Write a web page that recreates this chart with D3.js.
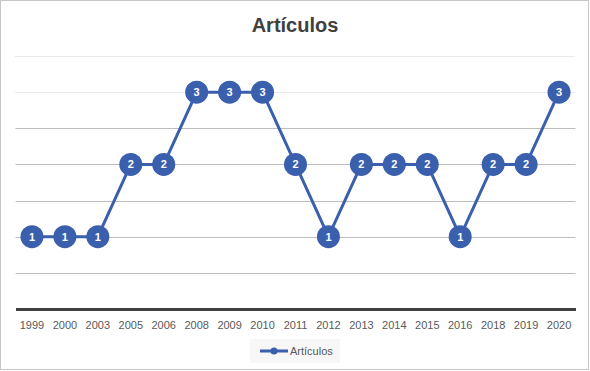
<!DOCTYPE html>
<html>
<head>
<meta charset="utf-8">
<title>Artículos</title>
<script src="https://d3js.org/d3.v7.min.js"></script>
<style>
  * { margin: 0; padding: 0; }
  body { background: #fff; }
  text { font-family: "Liberation Sans", Arial, sans-serif; }
</style>
</head>
<body>
<div id="chart"></div>
<script>
// datos
const years = ["1999", "2000", "2003", "2005", "2006", "2008", "2009", "2010", "2011",
               "2012", "2013", "2014", "2015", "2016", "2018", "2019", "2020"];
const articulos = [1, 1, 1, 2, 2, 3, 3, 3, 2, 1, 2, 2, 2, 1, 2, 2, 3];
const gridTicks = [0.5, 1, 1.5, 2, 2.5, 3, 3.5];
const seriesName = "Artículos";

const width = 590, height = 371;
const blue = "#3A5FAD";

const svg = d3.select("#chart").append("svg")
    .attr("width", width)
    .attr("height", height);

// marco
svg.append("rect")
    .attr("x", 0.5).attr("y", 0.5)
    .attr("width", 588).attr("height", 369)
    .attr("fill", "#fff")
    .attr("stroke", "#c6c6c6");

const x = d3.scaleBand()
    .domain(years)
    .range([15.5, 575.5]);

const y = d3.scaleLinear()
    .domain([0, 3.5])
    .range([309, 56]);

// título
svg.append("text")
    .attr("x", 295).attr("y", 32)
    .attr("text-anchor", "middle")
    .attr("font-size", 20)
    .attr("font-weight", "bold")
    .attr("fill", "#404040")
    .text(seriesName);

// líneas de división
svg.append("g")
    .selectAll("line")
    .data(gridTicks)
    .join("line")
    .attr("x1", 15.5).attr("x2", 575.5)
    .attr("y1", d => Math.round(y(d)) + 0.5)
    .attr("y2", d => Math.round(y(d)) + 0.5)
    .attr("stroke", d => d >= 3 ? "#d4d4d4" : "#bdbdbd")
    .attr("stroke-dasharray", d => d >= 3 ? "1,1" : null);

// eje X
const xAxis = svg.append("g")
    .attr("transform", `translate(0,${y(0)})`)
    .call(d3.axisBottom(x).tickSize(0).tickPadding(12));
xAxis.select(".domain")
    .attr("stroke", "#404040")
    .attr("stroke-width", 3);
xAxis.selectAll("text")
    .attr("font-size", 11)
    .attr("font-family", "Liberation Sans, Arial, sans-serif")
    .attr("fill", "#595959");

// línea
const line = d3.line()
    .x((d, i) => x(years[i]) + x.bandwidth() / 2)
    .y(d => y(d));

svg.append("path")
    .datum(articulos)
    .attr("fill", "none")
    .attr("stroke", blue)
    .attr("stroke-width", 3)
    .attr("stroke-linejoin", "round")
    .attr("d", line);

// marcadores con etiquetas
const pts = svg.append("g")
    .selectAll("g")
    .data(articulos)
    .join("g")
    .attr("transform", (d, i) => `translate(${x(years[i]) + x.bandwidth() / 2},${y(d)})`);

pts.append("circle")
    .attr("r", 11.5)
    .attr("fill", blue);

pts.append("text")
    .attr("text-anchor", "middle")
    .attr("dy", "0.36em")
    .attr("font-size", 11)
    .attr("font-weight", "bold")
    .attr("fill", "#fff")
    .text(d => d);

// leyenda
const legend = svg.append("g");
legend.append("rect")
    .attr("x", 250).attr("y", 339)
    .attr("width", 90).attr("height", 24)
    .attr("fill", "#f7f7f7");
legend.append("line")
    .attr("x1", 260).attr("x2", 288)
    .attr("y1", 351).attr("y2", 351)
    .attr("stroke", blue)
    .attr("stroke-width", 3);
legend.append("circle")
    .attr("cx", 274).attr("cy", 351)
    .attr("r", 3.5)
    .attr("fill", blue);
legend.append("text")
    .attr("x", 290).attr("y", 355)
    .attr("font-size", 11)
    .attr("fill", "#595959")
    .text(seriesName);
</script>
</body>
</html>
